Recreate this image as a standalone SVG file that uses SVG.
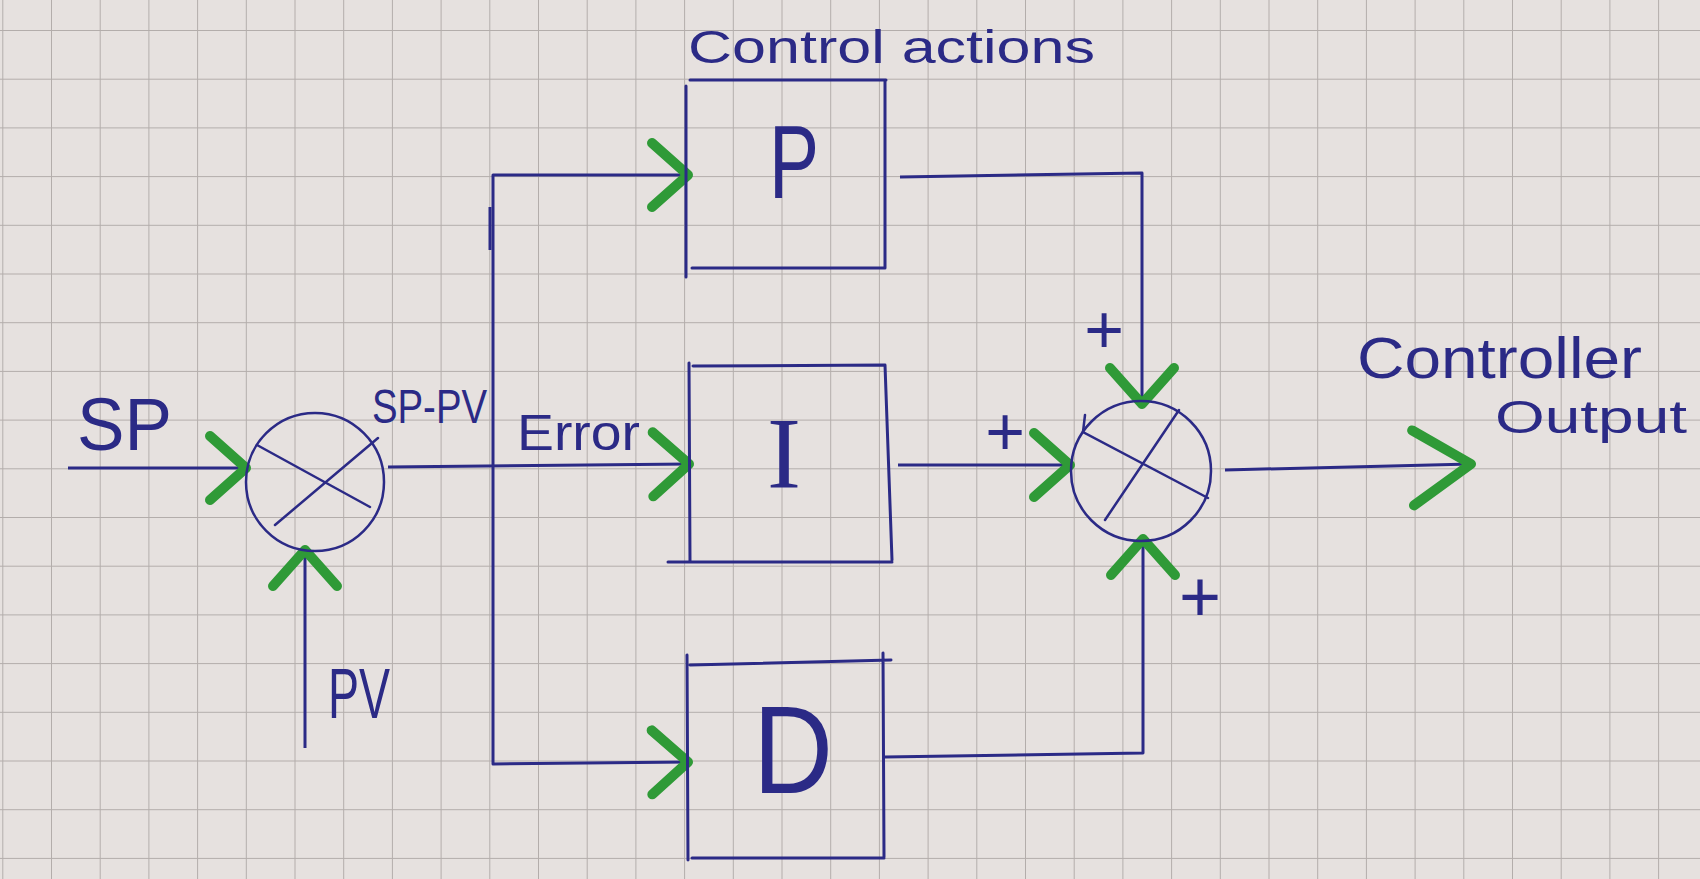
<svg xmlns="http://www.w3.org/2000/svg" width="1700" height="879" viewBox="0 0 1700 879">
  <defs>
    <pattern id="grid" patternUnits="userSpaceOnUse" x="2.3" y="30" width="48.7" height="48.7">
      <path d="M0,0 L48.7,0 M0,0 L0,48.7" fill="none" stroke="#b3adab" stroke-width="2"/>
    </pattern>
    <marker id="chev" markerUnits="userSpaceOnUse" viewBox="-50 -45 60 90" markerWidth="60" markerHeight="90" refX="0" refY="0" orient="auto">
      <path d="M-36,-32 L0,0 L-36,32" fill="none" stroke="#2f9a37" stroke-width="10" stroke-linecap="round" stroke-linejoin="round"/>
    </marker>
    <marker id="chevBig" markerUnits="userSpaceOnUse" viewBox="-70 -50 80 100" markerWidth="80" markerHeight="100" refX="0" refY="0" orient="auto">
      <path d="M-58,-35 L0,0 L-58,40" fill="none" stroke="#2f9a37" stroke-width="10" stroke-linecap="round" stroke-linejoin="round"/>
    </marker>
  </defs>
  <style>
    .ink { fill: none; stroke: #2b2a86; stroke-width: 3; stroke-linecap: round; stroke-linejoin: round; }
    .thin { fill: none; stroke: #2b2a86; stroke-width: 2.5; stroke-linecap: round; }
    .lbl { fill: #2b2a86; font-family: "Liberation Sans", "DejaVu Sans", sans-serif; }
    .conn { fill: none; stroke: #2b2a86; stroke-width: 3; stroke-linejoin: round; }
  </style>

  <rect x="0" y="0" width="1700" height="879" fill="#e6e1df"/>
  <rect x="0" y="0" width="1700" height="879" fill="url(#grid)"/>

  <g id="connectors">
    <path class="conn" d="M68,468 L246,468" marker-end="url(#chev)"/>
    <path class="conn" d="M305,748 L305,550" marker-end="url(#chev)"/>
    <path class="conn" d="M388,467 L689,464" marker-end="url(#chev)"/>
    <path class="conn" d="M493,467 L493,175 L688,175" marker-end="url(#chev)"/>
    <path class="conn" d="M493,467 L493,764 L688,762" marker-end="url(#chev)"/>
    <path class="conn" d="M490,207 L490,250"/>
    <path class="conn" d="M900,177 L1142,173 L1142,404" marker-end="url(#chev)"/>
    <path class="conn" d="M898,465 L1070,465" marker-end="url(#chev)"/>
    <path class="conn" d="M885,757 L1143,753 L1143,539" marker-end="url(#chev)"/>
    <path class="conn" d="M1225,470 L1471,464" marker-end="url(#chevBig)"/>
  </g>

  <g id="sum-error">
    <circle class="thin" cx="315" cy="482" r="69"/>
    <path class="thin" d="M257,445 L370,507 M378,438 L275,525"/>
  </g>

  <g id="block-P">
    <path class="ink" d="M686,86 L686,277 M690,80 L886,80 M885,80 L885,268 M692,268 L885,268"/>
    <text class="lbl" x="794" y="198" font-size="104" text-anchor="middle" textLength="50" lengthAdjust="spacingAndGlyphs">P</text>
  </g>

  <g id="block-I">
    <path class="ink" d="M689,363 L690,562 M693,366 L885,365 L892,560 M668,562 L892,562"/>
    <text x="784" y="488" font-size="102" text-anchor="middle" fill="#2b2a86" font-family="Liberation Serif, DejaVu Serif, serif">I</text>
  </g>

  <g id="block-D">
    <path class="ink" d="M687,655 L688,860 M690,665 L891,660 M883,653 L884,857 M692,858 L884,858"/>
    <text class="lbl" x="793" y="793" font-size="124" text-anchor="middle" textLength="80" lengthAdjust="spacingAndGlyphs">D</text>
  </g>

  <g id="sum-output">
    <circle class="thin" cx="1141" cy="471" r="70"/>
    <path class="thin" d="M1085,415 L1083,432 L1208,498 M1179,410 L1105,520"/>
  </g>

  <g id="labels">
    <text class="lbl" x="77" y="450" font-size="74" textLength="95" lengthAdjust="spacingAndGlyphs">SP</text>
    <text class="lbl" x="372" y="423" font-size="48" textLength="115" lengthAdjust="spacingAndGlyphs">SP-PV</text>
    <text class="lbl" x="328" y="718" font-size="70" textLength="62" lengthAdjust="spacingAndGlyphs">PV</text>
    <text class="lbl" x="517" y="450" font-size="50" textLength="123" lengthAdjust="spacingAndGlyphs">Error</text>
    <text class="lbl" x="688" y="63" font-size="46" textLength="407" lengthAdjust="spacingAndGlyphs">Control actions</text>
    <text class="lbl" x="1357" y="378" font-size="58" textLength="285" lengthAdjust="spacingAndGlyphs">Controller</text>
    <text class="lbl" x="1495" y="433" font-size="46" textLength="192" lengthAdjust="spacingAndGlyphs">Output</text>
    <text class="lbl" x="1104" y="353" font-size="68" text-anchor="middle">+</text>
    <text class="lbl" x="1005" y="455" font-size="68" text-anchor="middle">+</text>
    <text class="lbl" x="1200" y="621" font-size="72" text-anchor="middle">+</text>
  </g>
</svg>
